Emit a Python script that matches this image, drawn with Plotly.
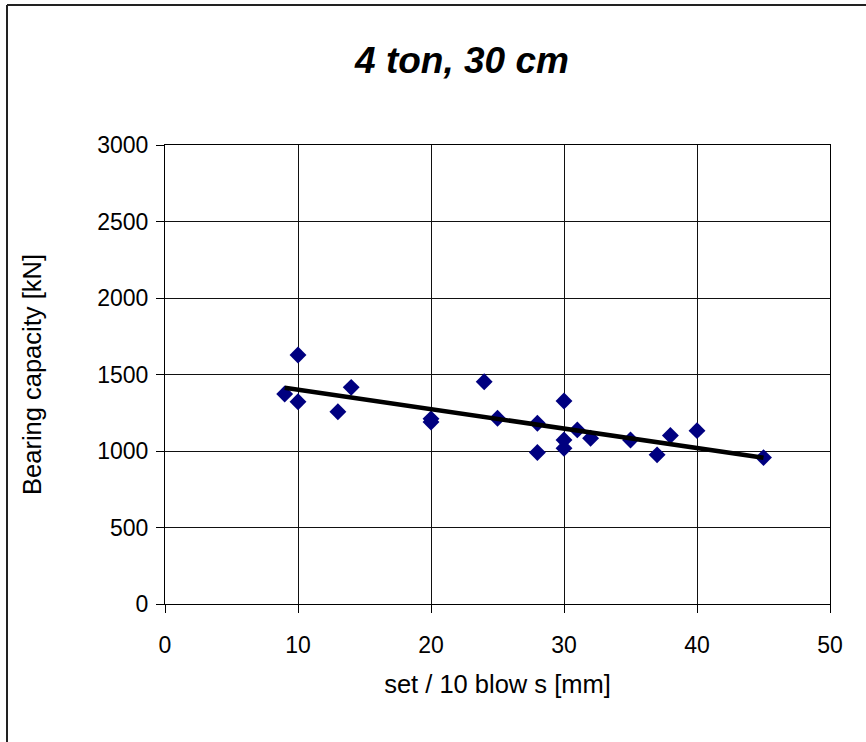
import numpy as np
import plotly.graph_objects as go

# Data
set_mm = [9, 10, 10, 13, 14, 20, 20, 24, 25, 28, 28, 30, 30, 30, 31, 32, 35, 37, 38, 40, 45]
capacity_kN = [1373, 1627, 1322, 1257, 1416, 1210, 1190, 1453, 1214, 1181, 990,
               1327, 1072, 1018, 1138, 1083, 1072, 975, 1101, 1133, 957]
x_ticks = [0, 10, 20, 30, 40, 50]
y_ticks = [0, 500, 1000, 1500, 2000, 2500, 3000]

# Linear trend line (least-squares fit)
slope, intercept = np.polyfit(set_mm, capacity_kN, 1)
trend_x = [min(set_mm), max(set_mm)]
trend_y = [slope * v + intercept for v in trend_x]

W, H = 866, 742
L, R, T, B = 165, 36, 145, 138
pw, ph = W - L - R, H - T - B

def px(xp):
    return (xp - L) / pw

def py(yp):
    return (H - B - yp) / ph

fig = go.Figure()
fig.add_trace(go.Scatter(
    x=set_mm, y=capacity_kN, mode="markers",
    marker=dict(symbol="diamond", size=13, color="#000080", line=dict(width=0)),
    showlegend=False, cliponaxis=False))
fig.add_trace(go.Scatter(
    x=trend_x, y=trend_y, mode="lines",
    line=dict(color="black", width=4.5), showlegend=False))

font_family = "Liberation Sans, Arial, sans-serif"
axis_common = dict(
    showgrid=True, gridcolor="#111111", gridwidth=1,
    showline=True, linecolor="black", linewidth=1, mirror=True,
    ticks="outside", ticklen=8, tickcolor="black", tickwidth=1,
    zeroline=False,
    tickfont=dict(family=font_family, size=23, color="black"),
)
fig.update_xaxes(range=[0, 50], tickvals=x_ticks, ticktext=[str(v) for v in x_ticks],
                 ticklabelstandoff=12,
                 title=dict(text="set / 10 blow s [mm]", standoff=18,
                            font=dict(family=font_family, size=25.5, color="black")),
                 **axis_common)
fig.update_yaxes(range=[0, 3000], tickvals=y_ticks, ticktext=[str(v) for v in y_ticks],
                 ticklabelstandoff=3,
                 title=dict(text="Bearing capacity [kN]", standoff=48,
                            font=dict(family=font_family, size=25.5, color="black")),
                 **axis_common)

fig.update_layout(
    width=W, height=H,
    margin=dict(l=L, r=R, t=T, b=B, autoexpand=False),
    paper_bgcolor="white", plot_bgcolor="white",
    title=dict(text="<b><i>4 ton, 30 cm</i></b>", x=px(462), xanchor="center", xref="paper",
               y=1 - 60 / H, yanchor="middle",
               font=dict(family=font_family, size=37, color="black")),
    shapes=[
        dict(type="line", xref="paper", yref="paper",
             x0=px(7), y0=py(H + 5), x1=px(7), y1=py(5),
             line=dict(color="#222222", width=2)),
        dict(type="line", xref="paper", yref="paper",
             x0=px(7), y0=py(5), x1=px(W + 5), y1=py(5),
             line=dict(color="#222222", width=2)),
    ],
)

fig.write_html("out.html", config={"displayModeBar": False},
               post_script="document.body.style.margin='0';document.body.style.overflow='hidden';")
